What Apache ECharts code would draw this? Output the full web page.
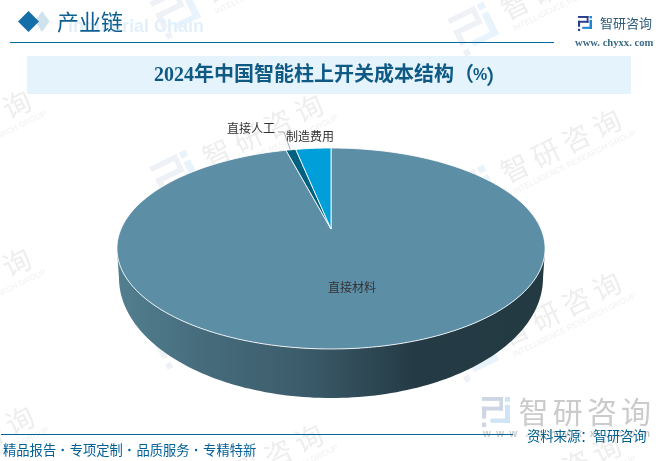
<!DOCTYPE html>
<html><head><meta charset="utf-8">
<style>html,body{margin:0;padding:0;background:#fff}#c{width:668px;height:461px}</style>
<script src="https://cdn.jsdelivr.net/npm/echarts@6/dist/echarts.min.js"></script>
</head><body><div id="c"></div>
<script>
const categories = ['直接材料', '直接人工', '制造费用'];
const values = [95.9, 0.9, 3.2];
const colors = ['#5c8ea6', '#00607f', '#009fd9'];
const chartTitle = '2024年中国智能柱上开关成本结构（';
const chartUnit = '%';
const chartTitleEnd = '）';
const headerTitle = '产业链';
const headerEn = 'Industrial Chain';
const slogans = ['精品报告', '专项定制', '品质服务', '专精特新'];
const sourceText = '资料来源：智研咨询';
const brand = '智研咨询';
const brandEn = 'INTELLIGENCE RESEARCH GROUP';
const site = 'www.chyxx.com';

const CJK = '"Noto Sans CJK SC","Noto Sans",sans-serif';
const chart = echarts.init(document.getElementById('c'), null, {renderer: 'canvas'});

// perspective disc projection
const APEX = [331, 229], A = 210, B = 96.7, K = -0.194;
function project(turn) {
  const a = turn * 2 * Math.PI, u = Math.sin(a), v = -Math.cos(a), w = 1 + K * v;
  return [APEX[0] + A * u / w, APEX[1] + B * v / w];
}
const labelPos = [[352, 287], [251, 128], [310, 136]];
const total = values.reduce((s, v) => s + v, 0);

function wallPoints() {
  const pts = [[117, 250]];
  for (let i = 0; i <= 120; i++) {
    const t = Math.PI - Math.PI * i / 120;
    pts.push([331 + 212 * Math.cos(t), 278 + 120 * Math.sin(t)]);
  }
  pts.push([545, 250]);
  for (let i = 0; i <= 120; i++) {
    const t = Math.PI * i / 120;
    pts.push([331 + 214 * Math.cos(t), 248.5 + 100.5 * Math.sin(t)]);
  }
  return pts;
}

function renderSlice(params, api) {
  const idx = params.dataIndex;
  let start = 0;
  for (let i = 0; i < idx; i++) start += values[i];
  const end = start + api.value(0);
  const pts = [APEX.slice()];
  const n = Math.max(6, Math.ceil((end - start) * 4));
  for (let i = 0; i <= n; i++) pts.push(project((start + (end - start) * i / n) / total));
  const children = [];
  if (idx === 0) {
    children.push({type: 'polygon', shape: {points: wallPoints()}, style: {
      fill: new echarts.graphic.LinearGradient(117, 0, 545, 0, [
        {offset: 0, color: '#527f8f'}, {offset: 0.2, color: '#466c7c'},
        {offset: 0.43, color: '#3c5c6b'}, {offset: 0.7, color: '#243a44'},
        {offset: 1, color: '#233a43'}], true)}});
  }
  children.push({type: 'polygon', shape: {points: pts}, style: {
    fill: colors[idx], stroke: 'rgba(255,255,255,0.85)', lineWidth: 1, lineJoin: 'round'}});
  children.push({type: 'text', z2: 10, style: {x: labelPos[idx][0], y: labelPos[idx][1],
    text: categories[idx], fill: '#333', font: '12px ' + CJK, align: 'center', verticalAlign: 'middle'}});
  return {type: 'group', children};
}

function logo(x, y, w, h, c1, c2) {
  const r = (rx, ry, rw, rh, c) => ({type: 'rect', shape: {x: x + rx * w, y: y + ry * h, width: rw * w, height: rh * h}, style: {fill: c}});
  return [
    r(0, 0, .75, .13, c1), r(.62, 0, .13, .45, c1), r(0, .32, .75, .13, c1), r(0, .32, .15, .4, c1), r(0, .85, .15, .15, c1),
    r(.82, 0, .18, .16, c2), r(.82, .26, .18, .6, c2), r(.3, .72, .7, .14, c2)
  ];
}
function watermark(px, py) {
  const kids = logo(-67, -17, 40, 42, '#eef1f6', '#e8f3fb');
  [...brand].forEach((ch, i) => kids.push({type: 'text', style: {x: 34 * i, y: 0, text: ch, fill: '#eeeeee',
    font: '28px ' + CJK, align: 'center', verticalAlign: 'middle'}}));
  kids.push({type: 'text', style: {x: -12, y: 21, text: brandEn, fill: '#f0f0f0', font: '8px "Liberation Sans"', verticalAlign: 'middle'}});
  return {type: 'group', x: px, y: py, rotation: 26 * Math.PI / 180, z: 0, children: kids};
}
const marks = [[-75,149],[-75,307],[-72,465],[217,-12],[217,153],[217,318],[217,483],[515,5],[515,168],[515,331],[515,494]];

const g = [];
marks.forEach(m => g.push(watermark(m[0], m[1])));
// header
g.push({type: 'text', z: 1, style: {x: 68, y: 27, text: headerEn, fill: '#e3f0fa', font: 'bold 18px "Liberation Sans"', verticalAlign: 'middle'}});
g.push({type: 'polygon', z: 2, shape: {points: [[35, 21.5], [42, 11], [49.5, 21.5], [42, 32]]}, style: {fill: '#d0e2ec'}});
g.push({type: 'polygon', z: 3, shape: {points: [[18, 21.5], [28.5, 11], [39, 21.5], [28.5, 32]]}, style: {fill: '#146ea8'}});
g.push({type: 'text', z: 3, style: {x: 57, y: 22, text: headerTitle, fill: '#0f5f90', font: '22px ' + CJK, verticalAlign: 'middle'}});
g.push({type: 'line', z: 3, shape: {x1: 10, y1: 42.5, x2: 554, y2: 42.5}, style: {stroke: '#006a9b', lineWidth: 1}});
// top-right logo
g.push({type: 'group', z: 3, children: logo(578, 16, 14, 15, '#2b3f8c', '#1e88d2')});
g.push({type: 'text', z: 3, style: {x: 600, y: 23, text: brand, fill: '#2c5b7e', font: '13px ' + CJK, verticalAlign: 'middle'}});
g.push({type: 'text', z: 3, style: {x: 575, y: 43, text: 'www. chyxx. com', fill: '#3d6c88', font: 'bold 10.6px "Liberation Serif"', verticalAlign: 'middle'}});
// title band
g.push({type: 'rect', z: 1, shape: {x: 27, y: 56, width: 604, height: 38}, style: {fill: 'rgba(222,240,251,0.8)'}});
g.push({type: 'text', z: 3, style: {x: 154, y: 76, text: chartTitle, fill: '#0e5a85', font: 'bold 20px "Liberation Serif",' + CJK, verticalAlign: 'middle'}});
g.push({type: 'text', z: 3, style: {x: 473, y: 76, text: chartUnit, fill: '#0e5a85', font: 'bold 16px "Liberation Sans"', verticalAlign: 'middle'}});
g.push({type: 'text', z: 3, style: {x: 486, y: 76, text: chartTitleEnd, fill: '#0e5a85', font: 'bold 20px ' + CJK, verticalAlign: 'middle'}});
// leader
g.push({type: 'polyline', z: 3, shape: {points: [[278, 132], [284, 132], [290, 149]]}, style: {stroke: '#aaa', fill: 'none', lineWidth: 1}});
// bottom-right brand
g.push({type: 'group', z: 1, children: logo(482, 397, 28, 30, '#ced6e6', '#cfe4f4')});
[...brand].forEach((ch, i) => g.push({type: 'text', z: 1, style: {x: 533.5 + 34.2 * i, y: 412, text: ch, fill: '#cbcbcb', font: '30px ' + CJK, align: 'center', verticalAlign: 'middle'}}));
[...site].forEach((ch, i) => g.push({type: 'text', z: 1, style: {x: 487 + 13.2 * i, y: 434, text: ch, fill: '#c8c8c8', font: 'bold 10px "Liberation Sans"', align: 'center', verticalAlign: 'middle'}}));
// footer
g.push({type: 'line', z: 3, shape: {x1: 1, y1: 434.5, x2: 513, y2: 434.5}, style: {stroke: '#006699', lineWidth: 1}});
slogans.forEach((s, i) => {
  g.push({type: 'text', z: 3, style: {x: 3 + 66.7 * i, y: 449.5, text: s, fill: '#005f96', font: '13.3px ' + CJK, verticalAlign: 'middle'}});
  if (i < 3) g.push({type: 'circle', z: 3, shape: {cx: 62.7 + 66.7 * i, cy: 450, r: 1.2}, style: {fill: '#005f96'}});
});
g.push({type: 'text', z: 3, style: {x: 527, y: 436, text: sourceText, fill: '#005f8e', font: '13.3px ' + CJK, verticalAlign: 'middle'}});

chart.setOption({
  animation: false,
  backgroundColor: '#fff',
  graphic: {elements: g},
  series: [{type: 'custom', coordinateSystem: 'none', z: 5, renderItem: renderSlice, data: values.map(v => [v])}]
});
</script></body></html>
